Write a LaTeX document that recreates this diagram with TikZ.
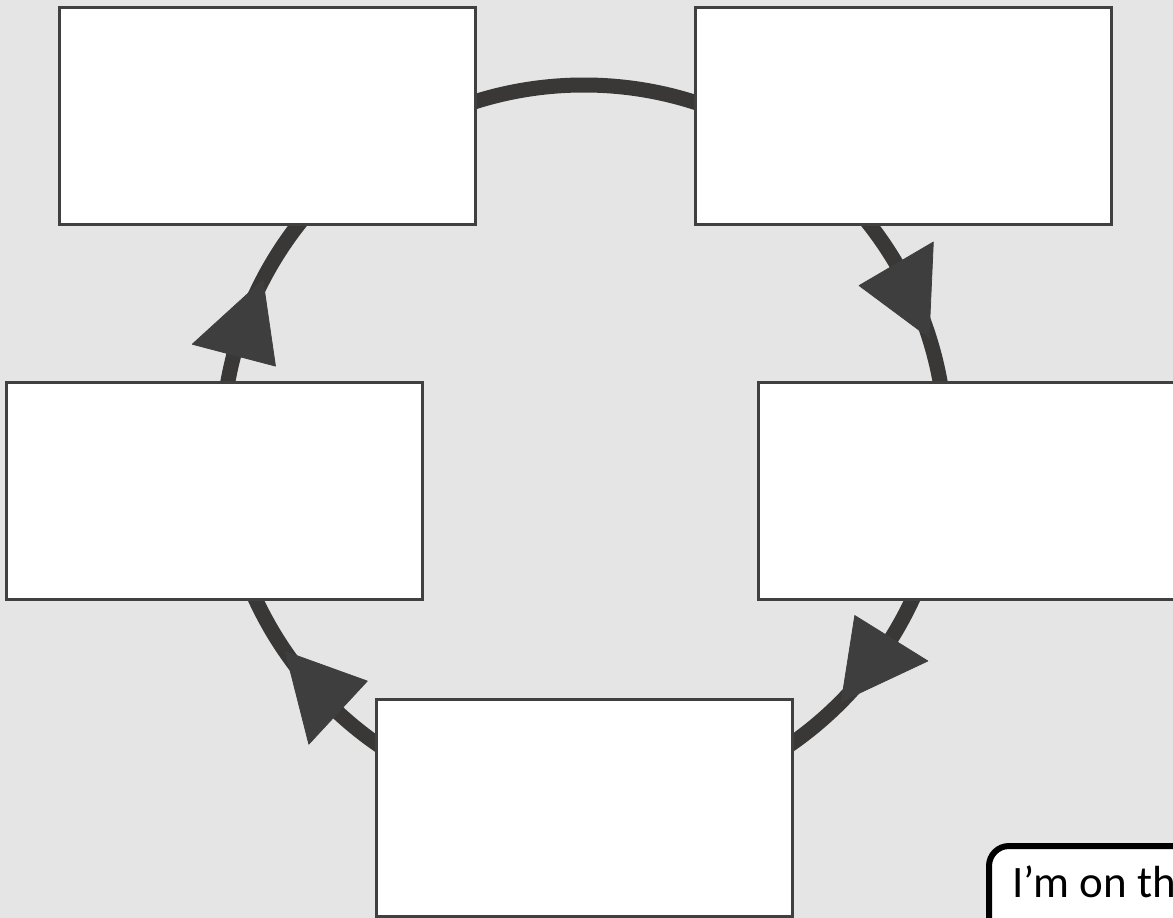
\documentclass[tikz,border=0pt]{standalone}
\usepackage{fontspec}
\setmainfont{Carlito}
\definecolor{bgcol}{HTML}{E5E5E5}
\definecolor{boxline}{HTML}{404040}
\definecolor{ringcol}{HTML}{393836}
\definecolor{headcol}{HTML}{3E3E3E}
\begin{document}
\begin{tikzpicture}[x=1pt,y=-1pt,
  box/.style={draw=boxline, line width=3pt, fill=white, minimum width=416pt, minimum height=217pt, inner sep=0pt},
  ring/.style={draw=ringcol, line width=15pt},
  head/.style={fill=headcol, draw=headcol, line width=0.8pt, line join=round},
  notebox/.style={draw=black, line width=6pt, fill=white, rounded corners=20pt, minimum width=500pt, minimum height=300pt, inner sep=0pt},
  notetext/.style={inner sep=0pt, font=\fontsize{45}{54}\selectfont, text=black}]
\fill[bgcol] (0,0) rectangle (1173,918);
\useasboundingbox (0,0) rectangle (1173,918);
\clip (0,0) rectangle (1173,918);
\coordinate (c) at (584,447);
\draw[ring] (c) circle [radius=362];
\begin{scope}[shift={(c)}]
  \foreach \a in {-17.6, 44.7, 145.6, 207.5}
    \filldraw[head] (\a-12.8:319) -- (\a:362) -- (\a-12.8:405) -- cycle;
\end{scope}
\node[box] (tl) at (267.5,116) {};
\node[box] (tr) at (903.5,116) {};
\node[box] (ml) at (214.5,491) {};
\node[box] (mr) at (966.5,491) {};
\node[box] (bt) at (584.5,808) {};
\node[notebox, anchor=north west] (note) at (986,843) {};
\node[notetext, anchor=base west] (notetext) at (1012,897) {I’m on th};
\end{tikzpicture}
\end{document}
